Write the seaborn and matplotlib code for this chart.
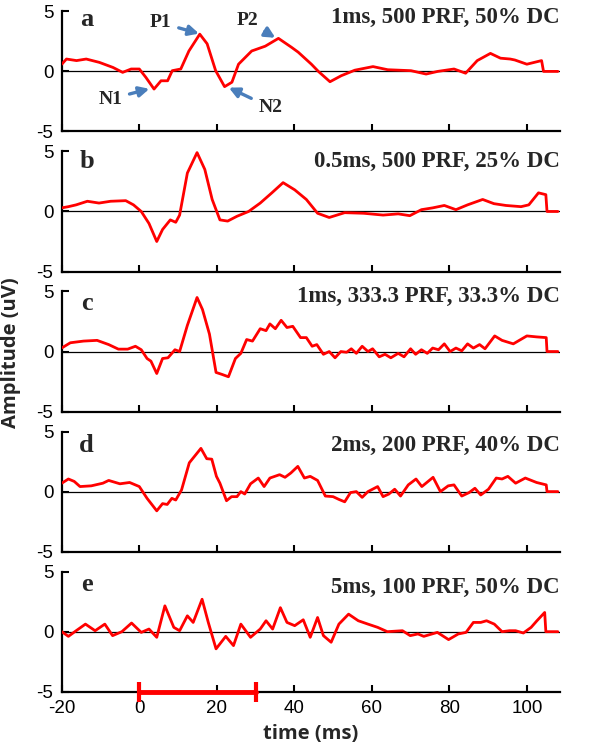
import numpy as np
import pandas as pd
import seaborn as sns
import matplotlib
matplotlib.use("Agg")
import matplotlib.pyplot as plt

#%% data (time in ms, amplitude in uV)
t_a = [-20, -18.8, -16.2, -13.7, -10.3, -6.8, -4.3, -2.1, 0, 1.7, 3.8, 5.6, 7.3, 8.5, 10.7, 12.8,
       15.6, 17.5, 19.7, 22, 23.9, 25.6, 29, 32.5, 35.9, 39.3, 41, 44.4, 46.2, 49.2, 52.1, 55.6,
       60.3, 64.1, 70.1, 74, 77, 81.2, 84.2, 87.2, 90.6, 93.2, 95.7, 96.9, 100, 103.8, 104.3, 108]
y_a = [0.6, 1.03, 0.9, 1.03, 0.75, 0.33, -0.08, 0.2, 0.2, -0.5, -1.47, -0.78, -0.78, 0.06, 0.2, 1.7,
       3.1, 2.3, 0.06, -1.27, -0.9, 0.6, 1.7, 2.1, 2.75, 2.0, 1.6, 0.6, 0.0, -0.86, -0.36, 0.1,
       0.4, 0.14, 0.06, -0.22, 0.0, 0.2, -0.15, 0.9, 1.5, 1.1, 1.03, 0.95, 0.6, 0.9, 0.0, 0.0]

t_b = [-20, -18.3, -16.3, -13.4, -10.4, -7.4, -3.5, -1.5, 0.5, 2.5, 4.5, 6, 8, 9.4, 10.4, 12.4,
       14.9, 16.9, 18.8, 20.8, 22.8, 25.2, 28.2, 31.2, 34.2, 37.1, 40.1, 43.1, 46, 49, 53, 57.9,
       62.9, 66.8, 69.8, 72.8, 75.7, 78.7, 81.7, 84.7, 88.6, 91.5, 94.6, 98.5, 100.5, 103, 104.9,
       105.2, 108]
y_b = [0.3, 0.4, 0.55, 0.85, 0.7, 0.85, 0.9, 0.55, 0.0, -1.0, -2.5, -1.5, -0.7, -0.9, -0.3, 3.2,
       4.9, 3.5, 1.0, -0.7, -0.8, -0.4, 0.0, 0.7, 1.55, 2.4, 1.8, 1.0, -0.15, -0.5, -0.1, -0.15,
       -0.3, -0.2, -0.35, 0.15, 0.3, 0.5, 0.15, 0.55, 1.0, 0.65, 0.5, 0.4, 0.55, 1.55, 1.4,
       0.0, 0.0]

t_c = [-20, -17.8, -14.4, -10.9, -7.9, -5.4, -3, -1, 0.5, 2, 3, 4.5, 6, 7.4, 9.2, 10.4, 12.4,
       14.9, 16.3, 18.1, 19.8, 21.3, 23, 24.8, 26.2, 27.7, 29.2, 31.2, 32.7, 33.7, 35.1, 36.6,
       38.1, 39.6, 41.6, 43.1, 44.6, 45.8, 47.5, 49, 50.5, 52, 53.5, 54.7, 56, 57.5, 59, 60.2,
       61.9, 63.4, 64.9, 66.8, 68.3, 70, 71.3, 72.8, 74.3, 75.7, 77.2, 78.7, 80.2, 81.7, 83.2,
       84.7, 86.2, 87.8, 89.2, 91.7, 93.6, 96.5, 100, 102.5, 105, 105.2, 108]
y_c = [0.3, 0.73, 0.87, 0.93, 0.58, 0.2, 0.2, 0.44, 0.15, -0.58, -0.8, -1.83, -0.58, -0.52, 0.15,
       0.0, 2.18, 4.5, 3.5, 1.45, -1.74, -1.9, -2.1, -0.58, -0.15, 1.0, 0.87, 1.9, 1.74, 2.3, 1.9,
       2.6, 2.0, 2.1, 1.16, 1.16, 0.44, 0.58, -0.23, 0.0, -0.52, 0.0, -0.06, 0.23, -0.15, 0.44,
       0.0, 0.23, -0.44, -0.23, -0.52, -0.15, -0.44, 0.23, -0.23, 0.15, -0.15, 0.29, 0.15, 0.64,
       0.0, 0.29, 0.06, 0.64, 0.29, 0.58, 0.23, 1.3, 0.93, 0.64, 1.3, 1.22, 1.16, 0.0, 0.0]

t_d = [-20, -18.3, -16.8, -15.3, -12.4, -9.4, -7.9, -5, -2.5, 0, 2, 4.5, 6, 7.2, 8.4, 9.4, 10.9,
       12.9, 14.4, 15.9, 17.4, 18.7, 19.9, 20.8, 22.5, 23.8, 25.2, 26.2, 27.2, 28.7, 30.7, 32.2,
       33.7, 36.2, 37.6, 39.1, 40.9, 42.6, 44.1, 46, 48, 50, 51.5, 53, 54.5, 56, 57.5, 59, 61.5,
       62.9, 64.4, 65.9, 67.4, 69.4, 71.4, 72.9, 75.8, 77.7, 79.7, 81.2, 83.2, 85.1, 86.6, 88.1,
       90.1, 92.1, 93.6, 95.1, 97.1, 99.6, 102.5, 105, 105.2, 108]
y_d = [0.7, 1.05, 0.85, 0.42, 0.48, 0.7, 0.93, 0.65, 0.76, 0.42, -0.56, -1.6, -1.0, -1.07, -0.56,
       -0.7, 0.14, 2.4, 3.0, 3.6, 2.74, 2.7, 1.27, 0.7, -0.76, -0.42, -0.42, 0.0, -0.2, 0.65, 1.13,
       0.42, 1.13, 1.41, 1.19, 1.55, 2.1, 1.13, 1.27, 0.93, -0.37, -0.42, -0.65, -0.85, -0.08, 0.0,
       -0.48, 0.0, 0.42, -0.42, -0.2, 0.2, -0.37, 0.56, 1.05, 0.42, 1.19, 0.0, 0.48, 0.56, -0.37,
       -0.08, 0.28, -0.28, 0.2, 1.13, 1.05, 1.27, 0.7, 1.13, 0.76, 0.56, 0.0, 0.0]

t_e = [-20, -18.3, -16.3, -13.9, -11.4, -8.9, -6.9, -4.5, -2, 0.5, 2.5, 4.5, 6.6, 8.9, 10.4, 12.4,
       13.9, 16.2, 17.8, 19.8, 22.3, 24.3, 26.2, 28.7, 31.2, 32.7, 34.4, 36.4, 38.1, 40.1, 42.3,
       44.1, 46, 47.5, 49.5, 51.5, 54, 56.5, 59, 61.5, 64, 67.9, 69.9, 71.9, 73.4, 76.9, 79.8, 82.3,
       84.3, 86.2, 88.1, 89.6, 91.6, 93.6, 95.5, 97.1, 99.1, 101.1, 102.6, 104.6, 104.9, 108]
y_e = [0.0, -0.39, 0.08, 0.63, 0.08, 0.63, -0.33, 0.0, 0.72, -0.06, 0.22, -0.47, 2.15, 0.36, 0.08,
       1.32, 0.77, 2.7, 0.77, -1.43, -0.39, -1.16, 0.63, -0.47, 0.22, 0.91, 0.22, 2.0, 0.77, 0.5,
       0.99, -0.47, 1.18, -0.33, -0.88, 0.63, 1.46, 0.91, 0.63, 0.36, 0.0, 0.08, -0.33, -0.19,
       -0.39, -0.06, -0.66, -0.19, -0.06, 0.77, 0.77, 0.91, 0.63, 0.0, 0.08, 0.08, -0.11, 0.36,
       0.91, 1.6, 0.0, 0.0]

panel_letters = ["a", "b", "c", "d", "e"]
conditions = ["1ms, 500 PRF, 50% DC", "0.5ms, 500 PRF, 25% DC", "1ms, 333.3 PRF, 33.3% DC",
              "2ms, 200 PRF, 40% DC", "5ms, 100 PRF, 50% DC"]
stim_bar = [0, 30]          # stimulus window (ms)
peak_names = ["P1", "P2", "N1", "N2"]
peak_t = [15.4, 35.1, 2.6, 23.1]
peak_y = [3.15, 2.8, -1.45, -1.35]
label_t = [5.5, 27.8, -7.5, 33.8]
label_y = [4.05, 4.2, -2.3, -3.0]

traces = [(t_a, y_a), (t_b, y_b), (t_c, y_c), (t_d, y_d), (t_e, y_e)]

#%% drawing
sns.set_theme(style="ticks")
plt.rcParams["font.family"] = ["Liberation Sans", "DejaVu Sans"]
plt.rcParams["axes.unicode_minus"] = False
plt.rcParams["xtick.direction"] = "in"
plt.rcParams["ytick.direction"] = "in"

fig, axes = plt.subplots(5, 1, figsize=(6, 7.56), dpi=100, sharex=True)
fig.subplots_adjust(left=0.103, right=0.933, top=0.985, bottom=0.085, hspace=0.166)

title_y = [0.95, 0.92, 0.96, 0.88, 0.87]
letter_y = [0.93, 0.92, 0.90, 0.88, 0.89]

for i, ax in enumerate(axes):
    t, y = traces[i]
    df = pd.DataFrame({"time": t, "amp": y})
    ax.axhline(0, color="black", lw=0.9, zorder=1)
    sns.lineplot(data=df, x="time", y="amp", ax=ax, color="#ff0000", lw=2.0,
                 estimator=None, sort=False, zorder=3, solid_joinstyle="round")
    ax.set_xlim(-20, 108.5)
    ax.set_ylim(-5, 5)
    ax.set_yticks([-5, 0, 5])
    ax.set_xticks([-20, 0, 20, 40, 60, 80, 100])
    ax.set_ylabel("")
    ax.set_xlabel("")
    sns.despine(ax=ax)
    for s in ["left", "bottom"]:
        ax.spines[s].set_linewidth(1.6)
        ax.spines[s].set_color("black")
    ax.tick_params(axis="both", labelsize=13.5, width=1.5, length=5, colors="black")
    ax.tick_params(axis="y", pad=6)
    ax.tick_params(axis="x", pad=6, labelbottom=(i == 4))
    ax.text(0.05, letter_y[i], panel_letters[i], transform=ax.transAxes, ha="center", va="center",
            fontsize=19, fontweight="bold", family=["Liberation Serif", "DejaVu Serif"])
    ax.text(1.0, title_y[i], conditions[i], transform=ax.transAxes, ha="right", va="center",
            fontsize=16.5, fontweight="bold", family=["Liberation Serif", "DejaVu Serif"])

# peak annotations on panel a
for name, pt, py, lt, ly in zip(peak_names, peak_t, peak_y, label_t, label_y):
    axes[0].annotate(name, xy=(pt, py), xytext=(lt, ly), ha="center", va="center",
                     fontsize=14, fontweight="bold", family=["Liberation Serif", "DejaVu Serif"],
                     arrowprops=dict(arrowstyle="-|>", color="#4a7ebb", lw=2.4,
                                     mutation_scale=15, shrinkA=3, shrinkB=0))

# stimulus bar on panel e
axes[4].plot(stim_bar, [-5, -5], color="#ff0000", lw=3.5, marker="|", markersize=15,
             mew=3, clip_on=False, zorder=5)

axes[4].set_xlabel("time (ms)", fontsize=14.5, fontweight="bold", family=["Open Sans", "DejaVu Sans"],
                   labelpad=5)
fig.text(0.018, 0.534, "Amplitude (uV)", rotation=90, ha="center", va="center",
         fontsize=14.5, fontweight="bold", family=["Open Sans", "DejaVu Sans"])

plt.savefig("out.png", dpi=100)
plt.close()
